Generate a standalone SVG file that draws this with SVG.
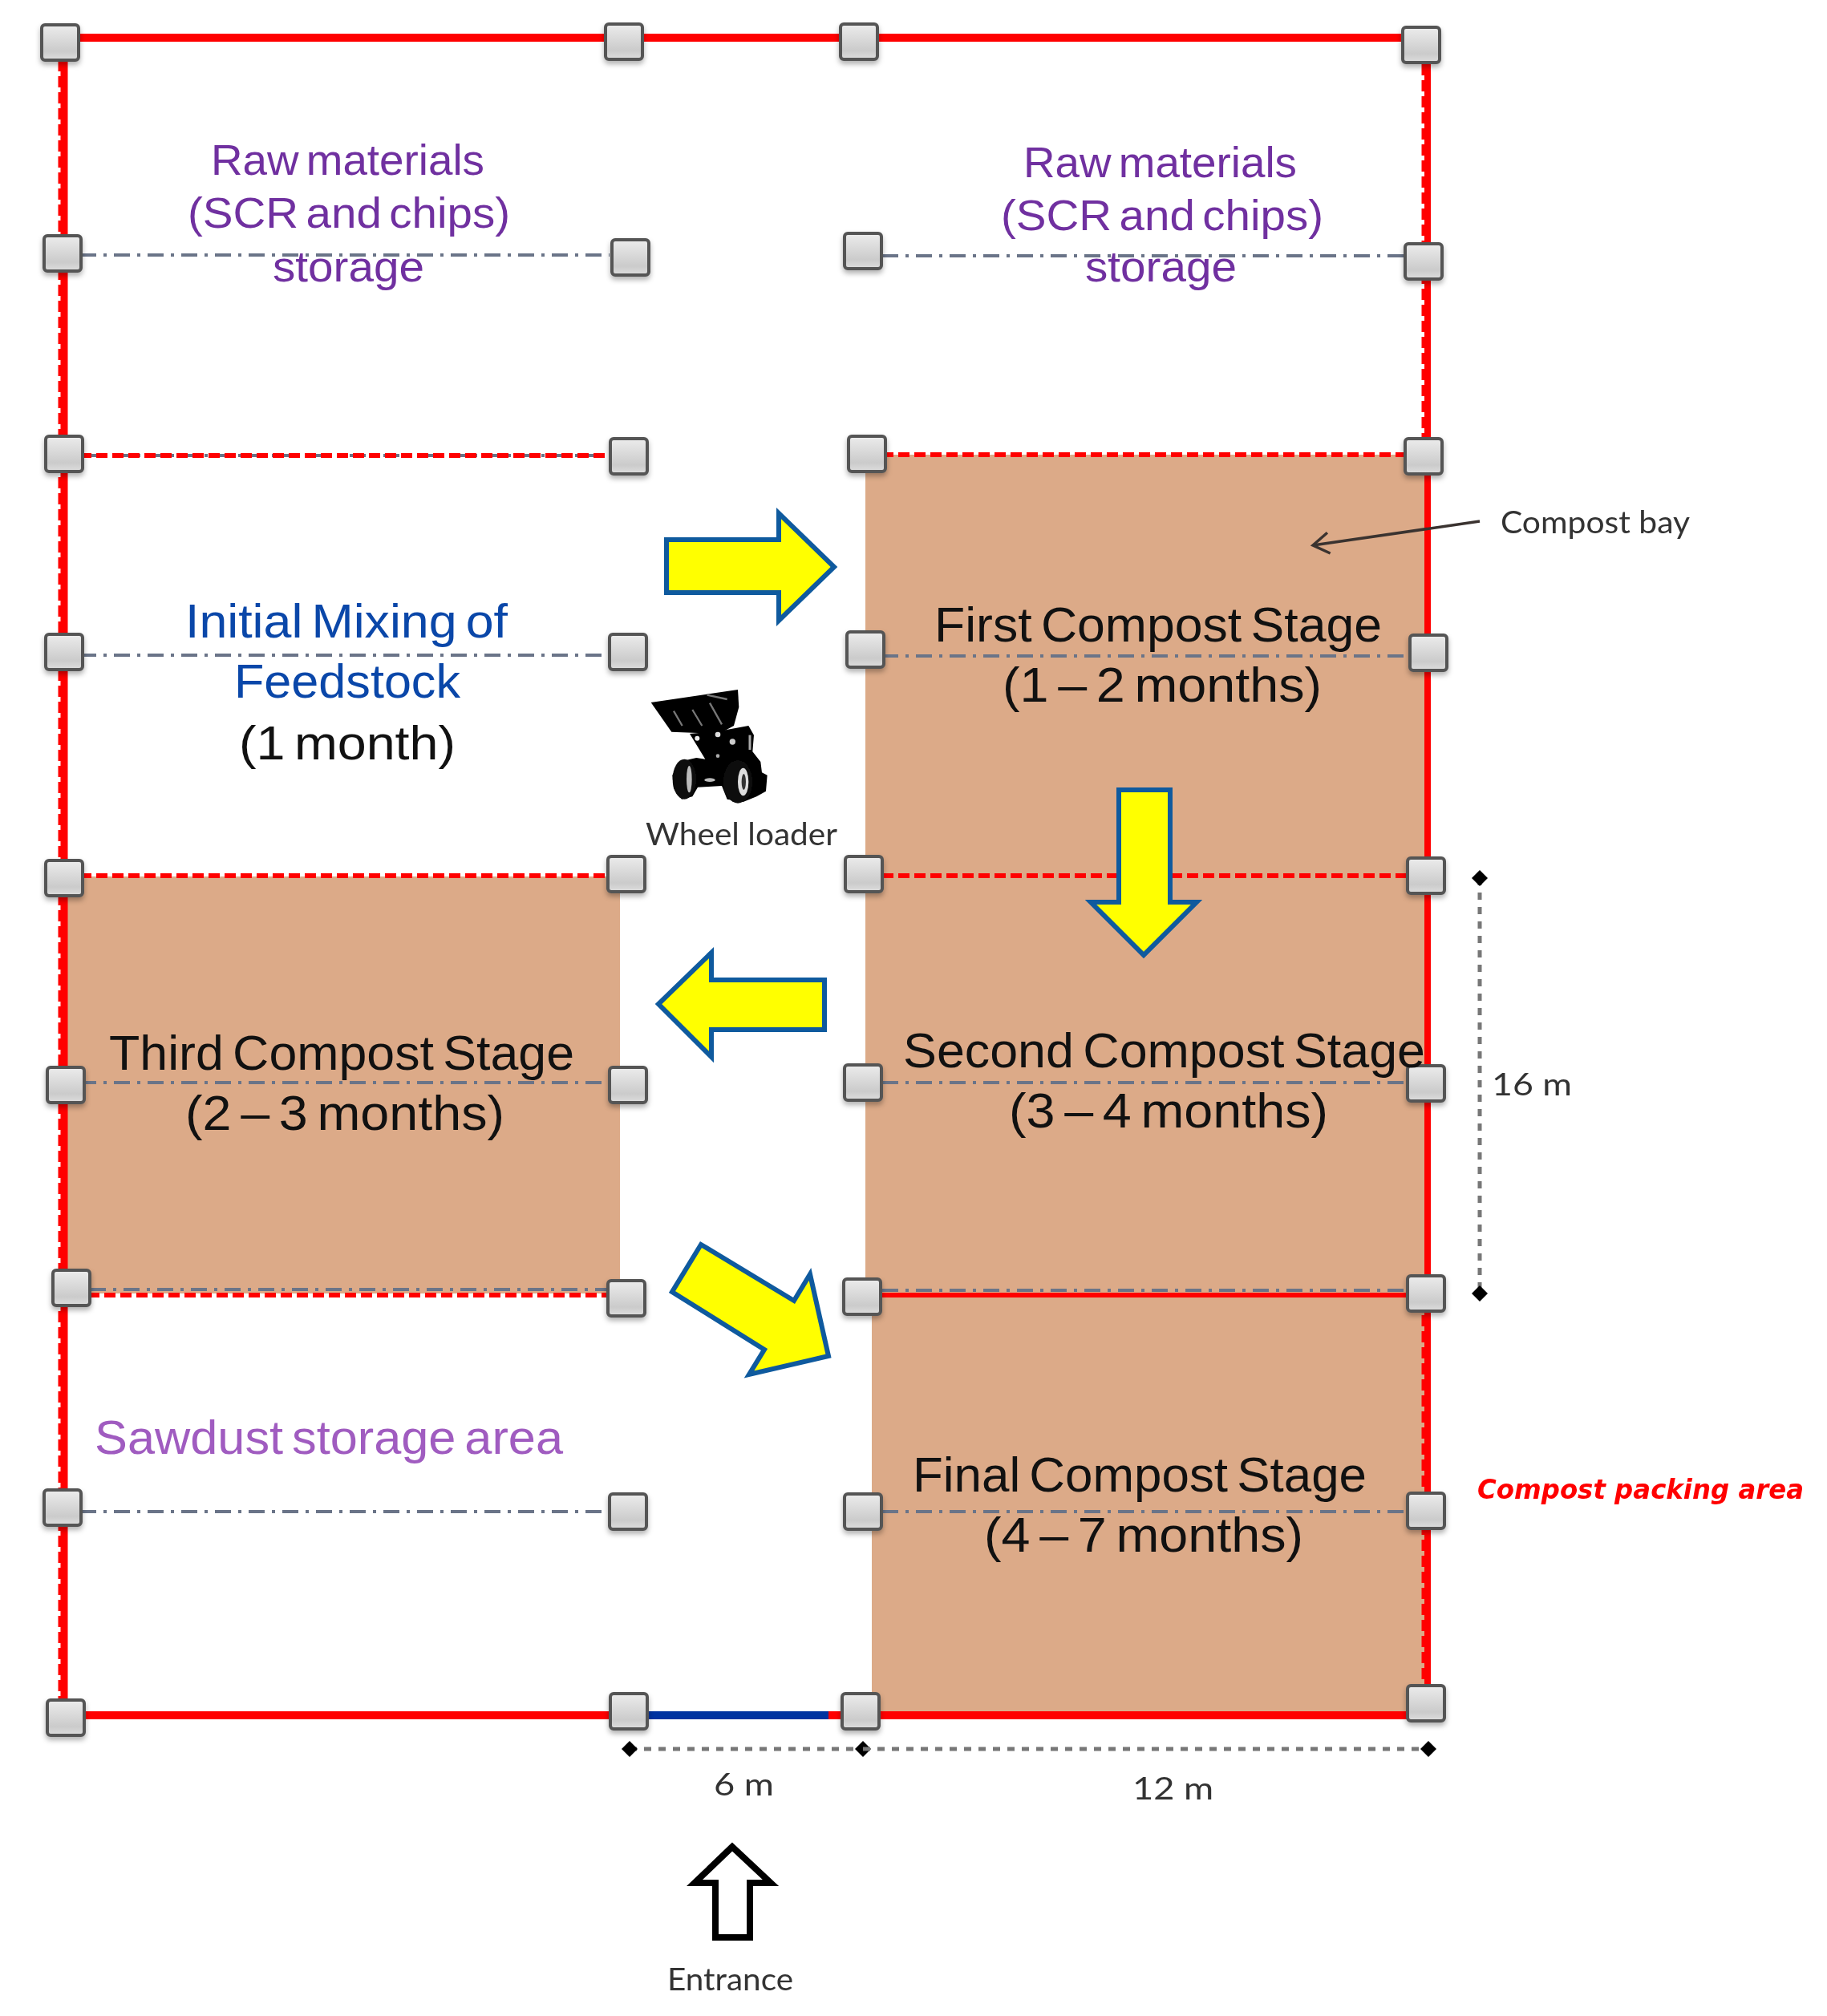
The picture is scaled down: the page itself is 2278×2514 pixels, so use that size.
<svg xmlns="http://www.w3.org/2000/svg" xmlns:xlink="http://www.w3.org/1999/xlink" width="2278" height="2514" viewBox="0 0 2278 2514">
<defs>
<linearGradient id="pg" x1="0" y1="0" x2="0" y2="1"><stop offset="0" stop-color="#ececec"/><stop offset="0.75" stop-color="#cbcbcb"/><stop offset="1" stop-color="#dedede"/></linearGradient>
<filter id="sh" x="-30%" y="-30%" width="160%" height="170%"><feDropShadow dx="0" dy="4" stdDeviation="3" flood-color="#000" flood-opacity="0.3"/></filter>
<filter id="soft" x="-5%" y="-5%" width="110%" height="110%"><feGaussianBlur stdDeviation="1"/></filter>
<marker id="open" markerUnits="userSpaceOnUse" markerWidth="30" markerHeight="34" viewBox="0 0 30 34" refX="25" refY="17" orient="auto"><path d="M5 4L25 17L5 30" fill="none" stroke="#3a3330" stroke-width="3.5"/></marker>
<marker id="dia" markerUnits="userSpaceOnUse" markerWidth="22" markerHeight="22" viewBox="0 0 22 22" refX="11" refY="11" orient="auto"><path d="M11 1L21 11L11 21L1 11Z" fill="#000"/></marker>
<rect id="post" x="-23" y="-22" width="46" height="44" rx="4" fill="url(#pg)" stroke="#555" stroke-width="4"/>
</defs>
<style>
.bay{fill:#dcaa88}
.wall{stroke:#f00;fill:none}
.solid{stroke-width:10}
.rd{stroke-width:6;stroke-dasharray:14 6}
.vd{stroke-width:5;stroke-dasharray:14 6}
.gd{stroke:#6a7488;stroke-width:4;stroke-dasharray:20 9 4 9;fill:none}
.dim{stroke:#777;stroke-width:5;stroke-dasharray:9 9;fill:none}
.arr{fill:#ff0;stroke:#0f5a9e;stroke-width:6;stroke-linejoin:miter}
.m{font-family:"Liberation Sans",Arial,sans-serif;word-spacing:-6px}
.c{font-family:Lato,"Open Sans",sans-serif;font-size:38px;fill:#333}
.pur{fill:#7030a0;font-size:54px}
.blk{fill:#111;font-size:62px}
</style>
<rect width="2278" height="2514" fill="#fff"/>
<g id="bays">
<rect class="bay" x="1079" y="567" width="699" height="1046"/>
<rect class="bay" x="1087" y="1613" width="691" height="525"/>
<rect class="bay" x="80" y="1093" width="693" height="520"/>
</g>
<g id="connectors">
<path class="gd" d="M100 318H760M1100 319H1755M100 817H760M1100 818H1755M100 1350H760M1100 1350H1755M100 1885H760M1100 1885H1755M112 1608H760M1100 1609H1755M100 568H760"/>
<path class="wall solid" d="M75 47H1772"/>
<path class="wall" stroke-width="9" d="M80 53V2140"/>
<path class="wall vd" d="M75 75V2120"/>
<path class="wall" stroke-width="8" d="M1780 56V2138"/>
<path class="wall vd" d="M1775 80V560M1775 1640V2110"/>
<path class="wall solid" d="M82 2139H784M1033 2139H1778"/>
<path stroke="#0033a0" stroke-width="10" fill="none" d="M806 2139H1033"/>
<path class="wall rd" d="M100 568H762M1100 567H1755M100 1092H760M1100 1092H1755M110 1615H760"/>
<path class="wall" stroke-width="6" d="M1100 1615H1755"/>
<path class="dim" marker-start="url(#dia)" marker-end="url(#dia)" d="M785 2181H1076"/>
<path class="dim" marker-end="url(#dia)" d="M1076 2181H1781"/>
<path class="dim" marker-start="url(#dia)" marker-end="url(#dia)" d="M1845 1095V1613"/>
<path d="M1845 650L1637 680" fill="none" stroke="#3a3330" stroke-width="3.5" marker-end="url(#open)"/>
</g>
<g id="posts" filter="url(#sh)">
<g id="p11"><use href="#post" x="75" y="53"/></g><g id="p12"><use href="#post" x="778" y="52"/></g><g id="p13"><use href="#post" x="1071" y="52"/></g><g id="p14"><use href="#post" x="1772" y="56"/></g>
<g id="p21"><use href="#post" x="78" y="316"/></g><g id="p22"><use href="#post" x="786" y="321"/></g><g id="p23"><use href="#post" x="1076" y="313"/></g><g id="p24"><use href="#post" x="1775" y="326"/></g>
<g id="p31"><use href="#post" x="80" y="566"/></g><g id="p32"><use href="#post" x="784" y="569"/></g><g id="p33"><use href="#post" x="1081" y="566"/></g><g id="p34"><use href="#post" x="1775" y="569"/></g>
<g id="p41"><use href="#post" x="80" y="813"/></g><g id="p42"><use href="#post" x="783" y="813"/></g><g id="p43"><use href="#post" x="1079" y="810"/></g><g id="p44"><use href="#post" x="1781" y="814"/></g>
<g id="p51"><use href="#post" x="80" y="1095"/></g><g id="p52"><use href="#post" x="781" y="1090"/></g><g id="p53"><use href="#post" x="1077" y="1090"/></g><g id="p54"><use href="#post" x="1778" y="1092"/></g>
<g id="p61"><use href="#post" x="82" y="1353"/></g><g id="p62"><use href="#post" x="783" y="1353"/></g><g id="p63"><use href="#post" x="1076" y="1350"/></g><g id="p64"><use href="#post" x="1778" y="1351"/></g>
<g id="p71"><use href="#post" x="89" y="1606"/></g><g id="p72"><use href="#post" x="781" y="1619"/></g><g id="p73"><use href="#post" x="1075" y="1617"/></g><g id="p74"><use href="#post" x="1778" y="1613"/></g>
<g id="p81"><use href="#post" x="78" y="1880"/></g><g id="p82"><use href="#post" x="783" y="1885"/></g><g id="p83"><use href="#post" x="1076" y="1885"/></g><g id="p84"><use href="#post" x="1778" y="1884"/></g>
<g id="p91"><use href="#post" x="82" y="2142"/></g><g id="p92"><use href="#post" x="784" y="2134"/></g><g id="p93"><use href="#post" x="1073" y="2134"/></g><g id="p94"><use href="#post" x="1778" y="2124"/></g>
</g>
<g id="flow-arrows">
<polygon class="arr" points="831,673 971,673 971,640 1040,707 971,774 971,739 831,739"/>
<polygon class="arr" points="1395,985 1459,985 1459,1125 1492,1125 1426,1191 1360,1125 1395,1125"/>
<polygon class="arr" points="1028,1222 887,1222 887,1188 821,1252 887,1318 887,1284 1028,1284"/>
<polygon class="arr" points="874,1552 990,1622 1010,1589 1033,1691 934,1714 953,1683 838,1611"/>
<path id="entrance-arrow" d="M913 2303L866 2348H892V2416H935V2348H961Z" fill="#fff" stroke="#000" stroke-width="8"/>
</g>
<g id="wheel-loader" transform="translate(800 850) scale(0.3333)" filter="url(#soft)">
<path d="M35 78L360 30L364 95L345 165L290 195L112 188Z" fill="#000"/>
<path d="M120 110L152 165M190 105L226 165M245 50L320 66M255 80L300 160" stroke="#777" stroke-width="7" fill="none"/>
<path d="M180 195L290 185L400 165L420 200L415 262L445 300L450 340L470 350L465 410L430 430L380 450L320 440L300 390L210 395L190 430L150 440L120 400L115 350L140 300L205 285L238 290Z" fill="#000"/>
<ellipse cx="160" cy="365" rx="44" ry="75" fill="#111"/>
<ellipse cx="178" cy="365" rx="10" ry="50" fill="#bbb"/>
<ellipse cx="360" cy="375" rx="54" ry="80" fill="#111"/>
<ellipse cx="380" cy="375" rx="20" ry="52" fill="#ddd"/>
<ellipse cx="382" cy="375" rx="8" ry="30" fill="#333"/>
<circle cx="208" cy="212" r="9" fill="#eee"/><circle cx="285" cy="198" r="10" fill="#ddd"/><circle cx="340" cy="225" r="11" fill="#ccc"/><circle cx="285" cy="278" r="7" fill="#aaa"/>
<ellipse cx="255" cy="368" rx="20" ry="7" fill="#bbb"/>
<path d="M405 200V255" stroke="#aaa" stroke-width="9"/>
</g>
<g id="labels">
<g id="raw-left" class="m pur">
<text x="263" y="218" textLength="341" lengthAdjust="spacingAndGlyphs">Raw materials</text>
<text x="234" y="284" textLength="402" lengthAdjust="spacingAndGlyphs">(SCR and chips)</text>
<text x="340" y="351" textLength="189" lengthAdjust="spacingAndGlyphs">storage</text>
</g>
<g id="raw-right" class="m pur">
<text x="1276" y="221" textLength="341" lengthAdjust="spacingAndGlyphs">Raw materials</text>
<text x="1248" y="287" textLength="402" lengthAdjust="spacingAndGlyphs">(SCR and chips)</text>
<text x="1353" y="351" textLength="189" lengthAdjust="spacingAndGlyphs">storage</text>
</g>
<g id="initial-mixing" class="m" font-size="60">
<text x="231" y="795" textLength="402" lengthAdjust="spacingAndGlyphs" fill="#0a47a9">Initial Mixing of</text>
<text x="292" y="870" textLength="282" lengthAdjust="spacingAndGlyphs" fill="#0a47a9">Feedstock</text>
<text x="298" y="947" textLength="270" lengthAdjust="spacingAndGlyphs" fill="#111">(1 month)</text>
</g>
<g id="first-stage" class="m blk">
<text x="1165" y="800" textLength="558" lengthAdjust="spacingAndGlyphs">First Compost Stage</text>
<text x="1250" y="875" textLength="398" lengthAdjust="spacingAndGlyphs">(1 – 2 months)</text>
</g>
<g id="second-stage" class="m blk">
<text x="1126" y="1331" textLength="651" lengthAdjust="spacingAndGlyphs">Second Compost Stage</text>
<text x="1258" y="1406" textLength="398" lengthAdjust="spacingAndGlyphs">(3 – 4 months)</text>
</g>
<g id="third-stage" class="m blk">
<text x="136" y="1334" textLength="580" lengthAdjust="spacingAndGlyphs">Third Compost Stage</text>
<text x="231" y="1409" textLength="398" lengthAdjust="spacingAndGlyphs">(2 – 3 months)</text>
</g>
<g id="final-stage" class="m blk">
<text x="1138" y="1860" textLength="566" lengthAdjust="spacingAndGlyphs">Final Compost Stage</text>
<text x="1227" y="1935" textLength="398" lengthAdjust="spacingAndGlyphs">(4 – 7 months)</text>
</g>
<text id="sawdust" class="m" x="118" y="1813" font-size="60" fill="#a05cc0" textLength="584" lengthAdjust="spacingAndGlyphs">Sawdust storage area</text>
<text class="c" x="805" y="1054" textLength="239" lengthAdjust="spacingAndGlyphs">Wheel loader</text>
<text class="c" x="1871" y="665" textLength="236" lengthAdjust="spacingAndGlyphs">Compost bay</text>
<text class="c" x="1860" y="1366" textLength="100" lengthAdjust="spacingAndGlyphs">16 m</text>
<text class="c" x="890" y="2239" textLength="75" lengthAdjust="spacingAndGlyphs">6 m</text>
<text class="c" x="1412" y="2244" textLength="101" lengthAdjust="spacingAndGlyphs">12 m</text>
<text class="c" x="832" y="2482" textLength="157" lengthAdjust="spacingAndGlyphs">Entrance</text>
<text x="1842" y="1869" font-family="'DejaVu Sans',sans-serif" font-weight="bold" font-style="italic" font-size="33" fill="#f00" textLength="407" lengthAdjust="spacingAndGlyphs">Compost packing area</text>
</g>
</svg>
